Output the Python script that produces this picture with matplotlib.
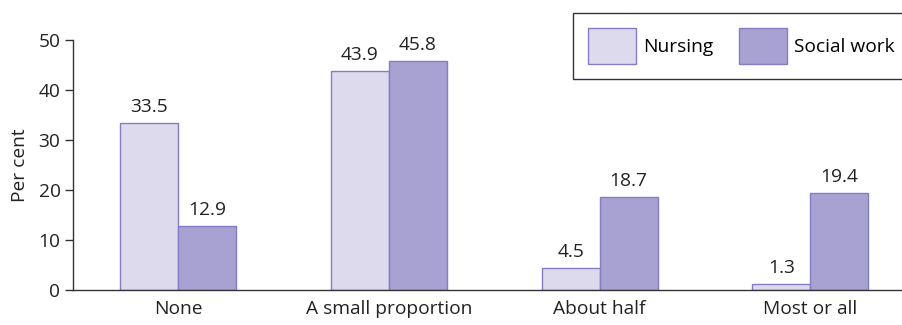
import numpy as np
import matplotlib.pyplot as plt
from matplotlib.patches import Patch

# Share of respondents by category, per cent
categories = ["None", "A small proportion", "About half", "Most or all"]
nursing = [33.5, 43.9, 4.5, 1.3]
social_work = [12.9, 45.8, 18.7, 19.4]
series_names = ["Nursing", "Social work"]

light_fill = "#dddaee"
dark_fill = "#a8a2d2"
edge = "#857dc3"

plt.rcParams["font.family"] = ["Open Sans", "DejaVu Sans"]
fs = 13.8

fig = plt.figure(figsize=(9.03, 3.25), dpi=100)
ax = fig.add_axes([73 / 903, 1 - 290 / 325, 1 - 73 / 903, 250 / 325])

x = np.arange(len(categories))
w = 0.276
b1 = ax.bar(x - w / 2, nursing, w, color=light_fill, edgecolor=edge, linewidth=1)
b2 = ax.bar(x + w / 2, social_work, w, color=dark_fill, edgecolor=edge, linewidth=1)

for bars, vals in ((b1, nursing), (b2, social_work)):
    for rect, v in zip(bars, vals):
        ax.annotate(f"{v:.1f}", (rect.get_x() + rect.get_width() / 2, v),
                    xytext=(0, 5), textcoords="offset points",
                    ha="center", va="bottom", fontsize=fs, color="#222222")

ax.set_xlim(-0.5, 3.44)
ax.set_ylim(0, 50)
ax.set_yticks(range(0, 51, 10))
ax.set_xticks(x)
ax.set_xticklabels(categories)
ax.tick_params(axis="x", length=0, pad=7, labelsize=fs, colors="#222222")
ax.tick_params(axis="y", length=6, width=1, color="#333333", labelsize=fs,
               labelcolor="#222222", pad=3)
ax.set_ylabel("Per cent", fontsize=fs, color="#222222", labelpad=7)

for side in ("top", "right"):
    ax.spines[side].set_visible(False)
for side in ("left", "bottom"):
    ax.spines[side].set_color("#333333")
    ax.spines[side].set_linewidth(1)

handles = [Patch(facecolor=light_fill, edgecolor=edge, label=series_names[0]),
           Patch(facecolor=dark_fill, edgecolor=edge, label=series_names[1])]
leg = fig.legend(handles=handles, loc="upper left", ncol=2,
                 bbox_to_anchor=(573 / 903, 1 - 13 / 325),
                 frameon=True, fancybox=False, fontsize=fs,
                 handlelength=2.5, handleheight=2.5, handletextpad=0.4,
                 columnspacing=1.3, borderpad=0.78, borderaxespad=0)
leg.get_frame().set_edgecolor("black")
leg.get_frame().set_linewidth(1)

fig.savefig("out.png", dpi=100)
